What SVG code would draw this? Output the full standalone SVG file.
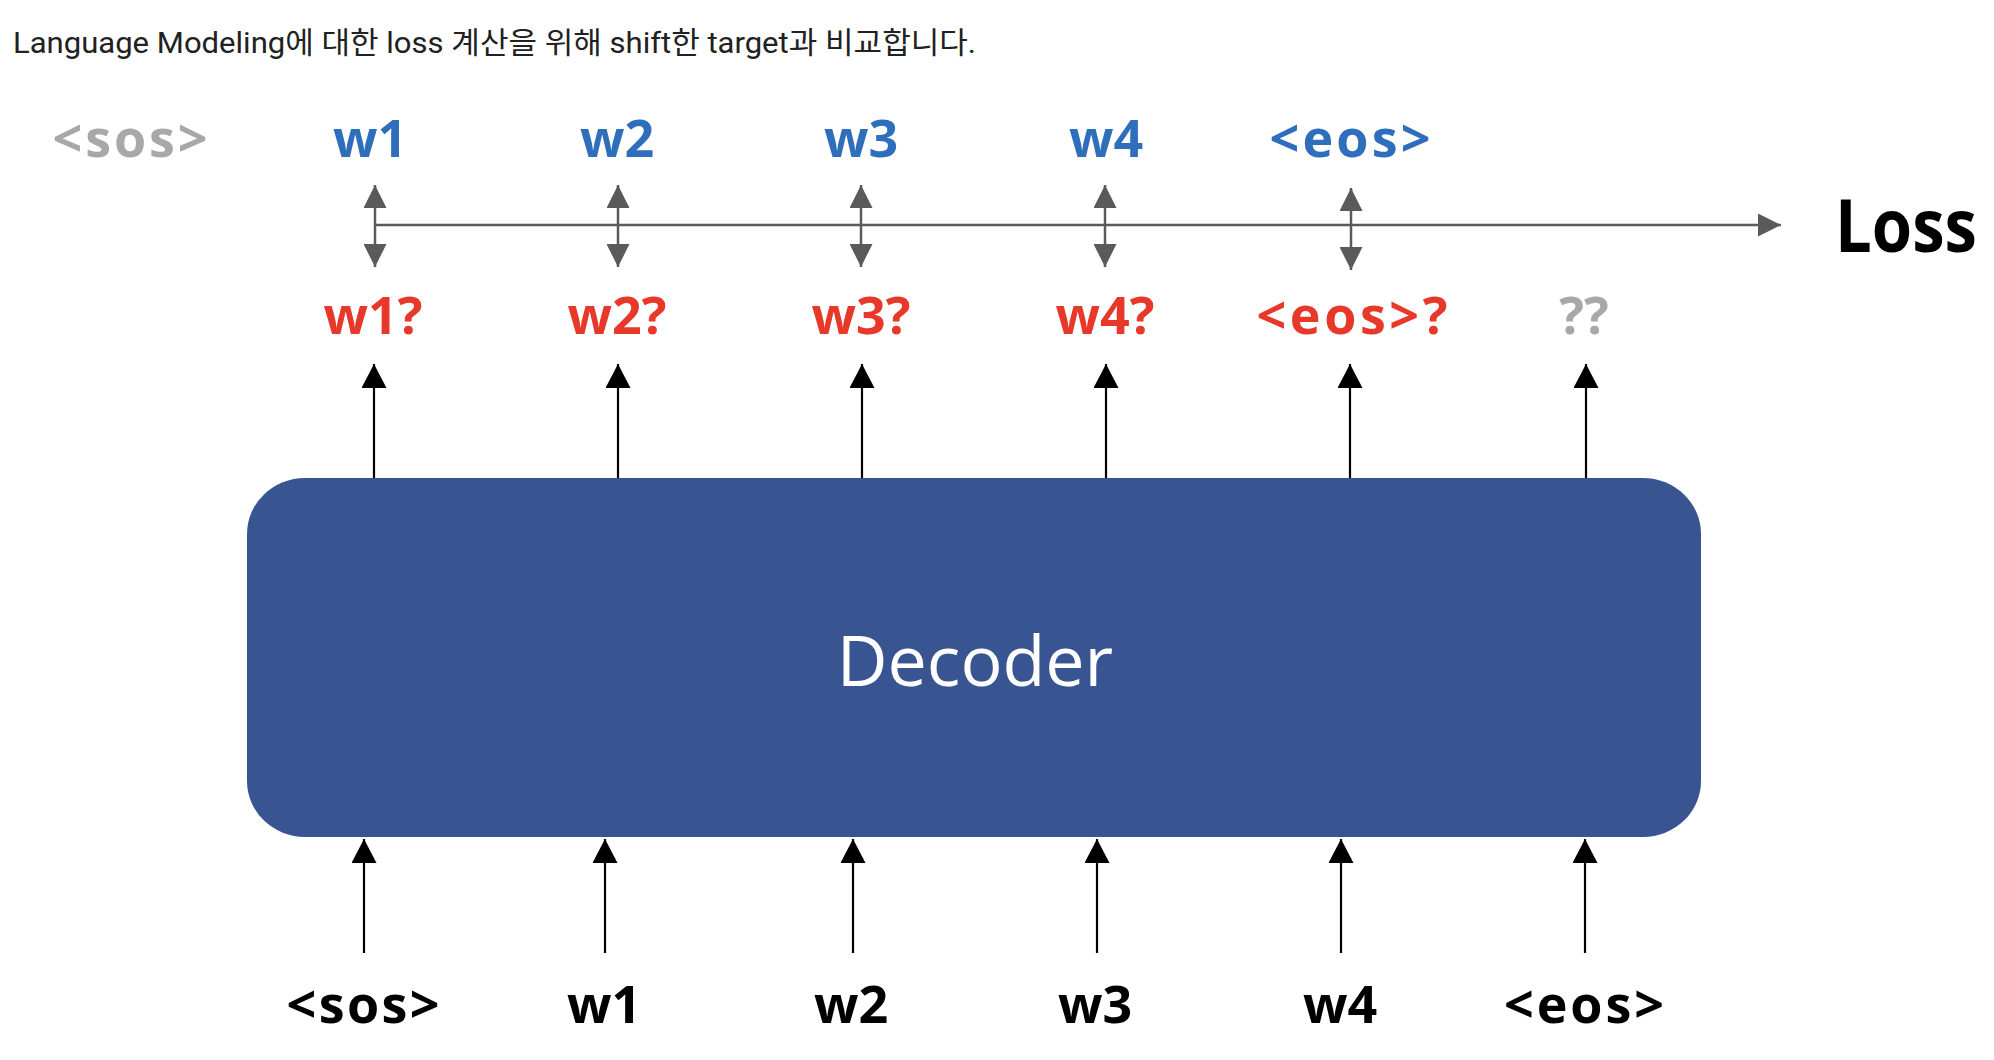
<svg xmlns="http://www.w3.org/2000/svg" width="1994" height="1060" viewBox="0 0 1994 1060">
  <style>
    .title { font-family: Roboto, "Noto Sans CJK KR", sans-serif; font-size: 30px; fill: #212121; }
    .lbl { font-family: "Open Sans", "Noto Sans", sans-serif; font-weight: bold; font-size: 52px; text-anchor: middle; }
    .blue { fill: #2F6EBB; }
    .red { fill: #E8382A; }
    .grey { fill: #A8A8A8; }
    .black { fill: #000000; }
    .loss { font-family: "Open Sans", "Noto Sans", sans-serif; font-weight: bold; font-size: 74px; fill: #000000; }
    .dec { font-family: "Open Sans", "Noto Sans", sans-serif; font-size: 70px; fill: #FFFFFF; text-anchor: middle; }
    .gline { stroke: #5A5A5A; stroke-width: 2.5; fill: none; }
    .bline { stroke: #000000; stroke-width: 2.2; fill: none; }
  </style>
  <defs>
    <marker id="ahGrey" viewBox="0 0 23 23" refX="23" refY="11.5" markerWidth="23" markerHeight="23" orient="auto-start-reverse" markerUnits="userSpaceOnUse">
      <path d="M0,0 L23,11.5 L0,23 Z" fill="#5A5A5A"/>
    </marker>
    <marker id="ahBlack" viewBox="0 0 24 25" refX="24" refY="12.5" markerWidth="24" markerHeight="25" orient="auto" markerUnits="userSpaceOnUse">
      <path d="M0,0 L24,12.5 L0,25 Z" fill="#000000"/>
    </marker>
  </defs>
  <rect width="1994" height="1060" fill="#FFFFFF"/>

  <text class="title" x="13" y="53" textLength="963" lengthAdjust="spacingAndGlyphs">Language Modeling에 대한 loss 계산을 위해 shift한 target과 비교합니다.</text>

  <g id="targets">
    <text class="lbl grey" x="130" y="157" textLength="155" lengthAdjust="spacing">&lt;sos&gt;</text>
    <text class="lbl blue" x="370" y="157">w1</text>
    <text class="lbl blue" x="617" y="157">w2</text>
    <text class="lbl blue" x="861" y="157">w3</text>
    <text class="lbl blue" x="1106" y="157">w4</text>
    <text class="lbl blue" x="1350" y="157" textLength="161" lengthAdjust="spacing">&lt;eos&gt;</text>
  </g>

  <g id="loss">
    <text class="loss" x="1835" y="252" textLength="142" lengthAdjust="spacingAndGlyphs">Loss</text>
  </g>

  <g id="predictions">
    <text class="lbl red" x="373" y="334">w1?</text>
    <text class="lbl red" x="617" y="334">w2?</text>
    <text class="lbl red" x="861" y="334">w3?</text>
    <text class="lbl red" x="1105" y="334">w4?</text>
    <text class="lbl red" x="1352" y="334" textLength="191" lengthAdjust="spacing">&lt;eos&gt;?</text>
    <text class="lbl grey" x="1584" y="334">??</text>
  </g>

  <g id="decoder">
    <rect x="247" y="478" width="1454" height="359" rx="58" ry="56" fill="#395591"/>
    <text class="dec" x="975" y="686">Decoder</text>
  </g>

  <g id="inputs">
    <text class="lbl black" x="363" y="1023" textLength="153" lengthAdjust="spacing">&lt;sos&gt;</text>
    <text class="lbl black" x="604" y="1023">w1</text>
    <text class="lbl black" x="851" y="1023">w2</text>
    <text class="lbl black" x="1095" y="1023">w3</text>
    <text class="lbl black" x="1340" y="1023">w4</text>
    <text class="lbl black" x="1584" y="1023" textLength="160" lengthAdjust="spacing">&lt;eos&gt;</text>
  </g>

  <g id="connectors">
    <line class="gline" x1="375" y1="225" x2="1781" y2="225" marker-end="url(#ahGrey)"/>
    <line class="gline" x1="375" y1="185" x2="375" y2="267" marker-start="url(#ahGrey)" marker-end="url(#ahGrey)"/>
    <line class="gline" x1="618" y1="185" x2="618" y2="267" marker-start="url(#ahGrey)" marker-end="url(#ahGrey)"/>
    <line class="gline" x1="861" y1="185" x2="861" y2="267" marker-start="url(#ahGrey)" marker-end="url(#ahGrey)"/>
    <line class="gline" x1="1105" y1="185" x2="1105" y2="267" marker-start="url(#ahGrey)" marker-end="url(#ahGrey)"/>
    <line class="gline" x1="1351" y1="188" x2="1351" y2="270" marker-start="url(#ahGrey)" marker-end="url(#ahGrey)"/>
    <line class="bline" x1="374" y1="478" x2="374" y2="364" marker-end="url(#ahBlack)"/>
    <line class="bline" x1="618" y1="478" x2="618" y2="364" marker-end="url(#ahBlack)"/>
    <line class="bline" x1="862" y1="478" x2="862" y2="364" marker-end="url(#ahBlack)"/>
    <line class="bline" x1="1106" y1="478" x2="1106" y2="364" marker-end="url(#ahBlack)"/>
    <line class="bline" x1="1350" y1="478" x2="1350" y2="364" marker-end="url(#ahBlack)"/>
    <line class="bline" x1="1586" y1="478" x2="1586" y2="364" marker-end="url(#ahBlack)"/>
    <line class="bline" x1="364" y1="953" x2="364" y2="839" marker-end="url(#ahBlack)"/>
    <line class="bline" x1="605" y1="953" x2="605" y2="839" marker-end="url(#ahBlack)"/>
    <line class="bline" x1="853" y1="953" x2="853" y2="839" marker-end="url(#ahBlack)"/>
    <line class="bline" x1="1097" y1="953" x2="1097" y2="839" marker-end="url(#ahBlack)"/>
    <line class="bline" x1="1341" y1="953" x2="1341" y2="839" marker-end="url(#ahBlack)"/>
    <line class="bline" x1="1585" y1="953" x2="1585" y2="839" marker-end="url(#ahBlack)"/>
  </g>
</svg>
